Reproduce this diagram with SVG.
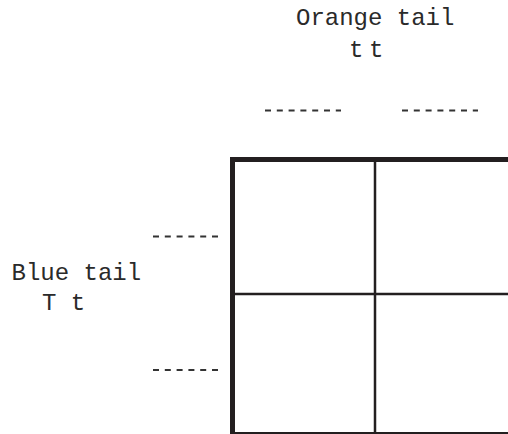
<svg xmlns="http://www.w3.org/2000/svg" width="508" height="434" viewBox="0 0 508 434">
<style>
.lbl{font-family:"Liberation Mono","Courier New",monospace;font-size:24px;fill:#2a2a2a}
.thick{stroke:#231f20;stroke-width:5;fill:none}
.thin{stroke:#231f20;stroke-width:2.5;fill:none}
.dash{stroke:#333;stroke-width:2.2;stroke-dasharray:6 5.8;fill:none}
</style>
<rect width="508" height="434" fill="#fff"/>
<g id="labels">
<g id="orange"><text class="lbl" x="296" y="25">Orange tail</text><text class="lbl" x="349" y="57" letter-spacing="-4.4">t t</text></g>
<g id="blue"><text class="lbl" x="11.5" y="280">Blue tail</text><text class="lbl" x="42" y="310">T t</text></g>
</g>
<g id="blanks">
<line class="dash" x1="265" y1="110.5" x2="341" y2="110.5"/>
<line class="dash" x1="402" y1="110.5" x2="478" y2="110.5"/>
<line class="dash" x1="153" y1="236.5" x2="218" y2="236.5"/>
<line class="dash" x1="153" y1="370" x2="218" y2="370"/>
</g>
<g id="grid">
<line class="thick" x1="232.5" y1="157" x2="232.5" y2="434"/>
<line class="thick" x1="230" y1="159.5" x2="508" y2="159.5"/>
<line class="thick" x1="230" y1="434.5" x2="508" y2="434.5"/>
<line class="thin" x1="375" y1="162" x2="375" y2="434"/>
<line class="thin" x1="235" y1="294" x2="508" y2="294"/>
</g>
</svg>
